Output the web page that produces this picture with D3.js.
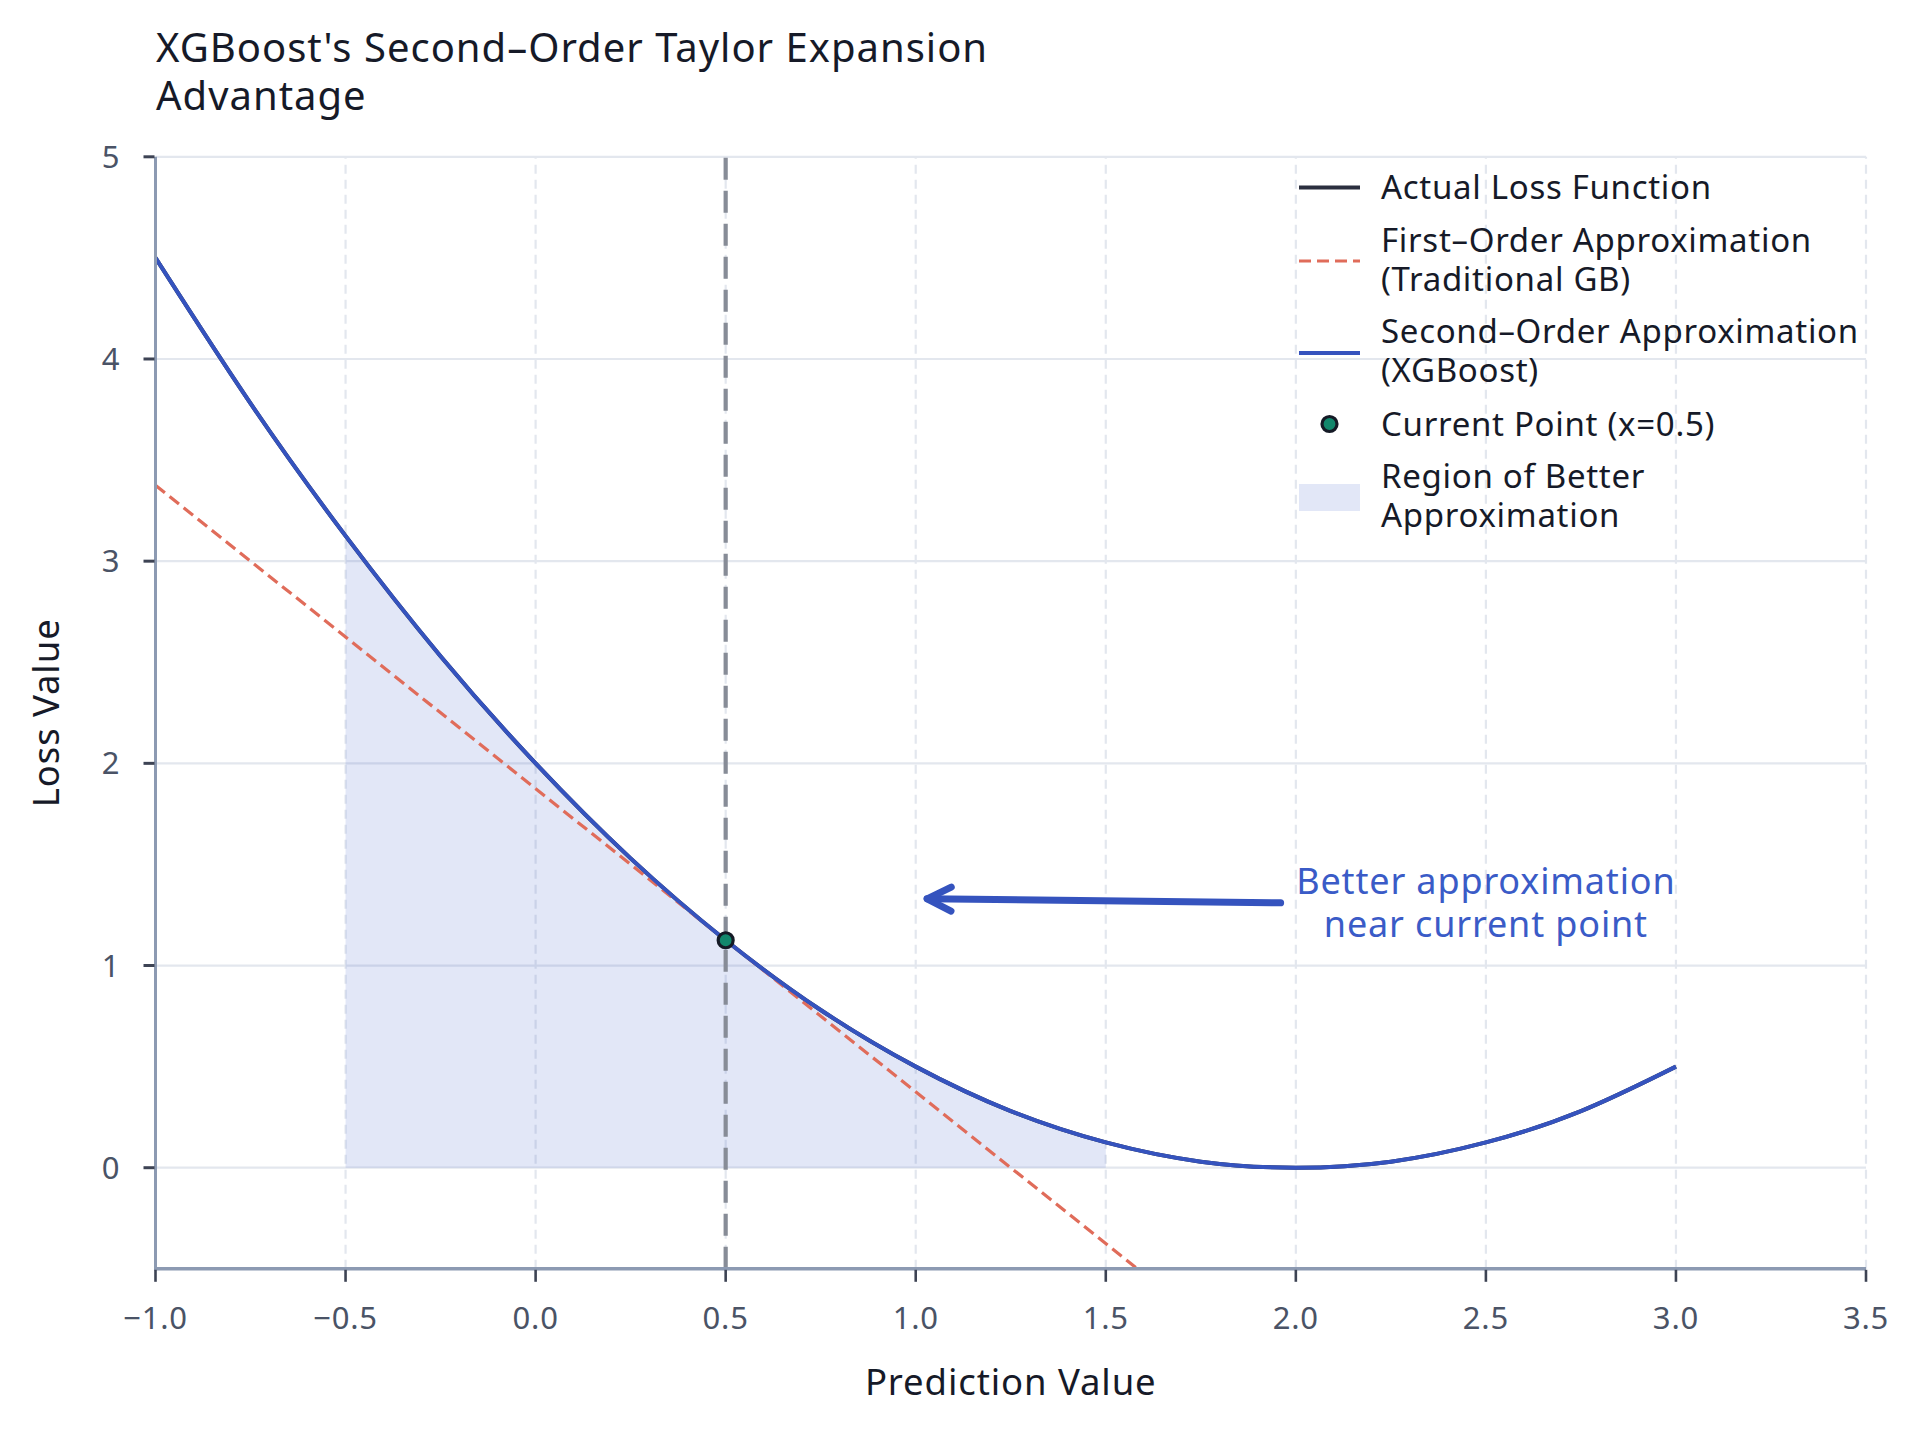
<!DOCTYPE html>
<html>
<head>
<meta charset="utf-8">
<script src="https://cdn.jsdelivr.net/npm/d3@7"></script>
<style>
  html, body { margin: 0; padding: 0; background: #ffffff; }
  svg { display: block; }
  text { font-family: "Noto Sans", "Open Sans", sans-serif; }
</style>
</head>
<body>
<svg id="chart" width="1920" height="1432"></svg>
<script>
// ---------- data ----------
const titleLines = ["XGBoost's Second\u2013Order Taylor Expansion", "Advantage"];
const xLabel = "Prediction Value";
const yLabel = "Loss Value";
const xTicks = [-1.0, -0.5, 0.0, 0.5, 1.0, 1.5, 2.0, 2.5, 3.0, 3.5];
const yTicks = [0, 1, 2, 3, 4, 5];

const predX = [-1.0, -0.75, -0.5, -0.25, 0.0, 0.25, 0.5, 0.75, 1.0, 1.25, 1.5, 1.75, 2.0, 2.25, 2.5, 2.75, 3.0];
const actualLoss = [4.5, 3.78, 3.125, 2.53, 2.0, 1.53, 1.125, 0.78, 0.5, 0.28, 0.125, 0.03, 0.0, 0.03, 0.125, 0.28, 0.5];
const secondOrder = [4.5, 3.78, 3.125, 2.53, 2.0, 1.53, 1.125, 0.78, 0.5, 0.28, 0.125, 0.03, 0.0, 0.03, 0.125, 0.28, 0.5];
const firstOrderX = [-1.0, 3.0];
const firstOrderY = [3.375, -2.625];
const regionRange = [-0.5, 1.5];
const currentPoint = [0.5, 1.125];
const annotationText = ["Better approximation", "near current point"];
const annotationPos = [2.5, 1.31];
const arrowFrom = [1.96, 1.31];
const arrowTo = [1.03, 1.33];
const legendLabels = [
  ["Actual Loss Function"],
  ["First\u2013Order Approximation", "(Traditional GB)"],
  ["Second\u2013Order Approximation", "(XGBoost)"],
  ["Current Point (x=0.5)"],
  ["Region of Better", "Approximation"]
];

// ---------- colours ----------
const C = {
  actual: "#2b2f3f",
  first: "#e06c5a",
  second: "#3553be",
  point: "#12876c",
  pointEdge: "#151a26",
  region: "#3a5bc7",
  grid: "#e3e7ee",
  spine: "#8c9ab2",
  tick: "#3d4354",
  tickLabel: "#4a5366",
  vline: "#878c97",
  annot: "#3a5bc7",
  text: "#161a28"
};

// ---------- layout ----------
const svg = d3.select("#chart");
const pLeft = 155.5, pRight = 1866, pTop = 156.8, pBottom = 1268.8;
const x = d3.scaleLinear().domain([-1.0, 3.5]).range([pLeft, pRight]);
const y = d3.scaleLinear().domain([-0.5, 5]).range([pBottom, pTop]);

svg.append("defs").append("clipPath").attr("id", "plotclip")
  .append("rect").attr("x", pLeft).attr("y", pTop).attr("width", pRight - pLeft).attr("height", pBottom - pTop);

// multi-line text helper (one <text>, several <tspan>)
function multiText(g, lines, xPos, yFirst, lineH) {
  const t = g.append("text");
  lines.forEach((s, j) => {
    t.append("tspan").attr("x", xPos).attr("y", yFirst + j * lineH).text(s);
  });
  return t;
}

// ---------- grid ----------
const grid = svg.append("g");
grid.selectAll("line.h").data(yTicks).join("line")
  .attr("x1", pLeft).attr("x2", pRight)
  .attr("y1", d => y(d)).attr("y2", d => y(d))
  .attr("stroke", C.grid).attr("stroke-width", 2.2);
grid.selectAll("line.v").data(xTicks.filter(d => d > -1)).join("line")
  .attr("x1", d => x(d)).attr("x2", d => x(d))
  .attr("y1", pBottom).attr("y2", pTop)
  .attr("stroke", C.grid).attr("stroke-width", 2.2)
  .attr("stroke-dasharray", "9,6");

const plot = svg.append("g").attr("clip-path", "url(#plotclip)");

// ---------- region ----------
const regionPts = predX.map((v, i) => [v, actualLoss[i]]).filter(d => d[0] >= regionRange[0] && d[0] <= regionRange[1]);
plot.append("path")
  .datum(regionPts)
  .attr("d", d3.area().x(d => x(d[0])).y0(y(0)).y1(d => y(d[1])).curve(d3.curveNatural))
  .attr("fill", C.region).attr("fill-opacity", 0.15);

// ---------- vertical current-point line ----------
plot.append("line")
  .attr("x1", x(currentPoint[0])).attr("x2", x(currentPoint[0]))
  .attr("y1", pBottom).attr("y2", pTop)
  .attr("stroke", C.vline).attr("stroke-width", 4.2)
  .attr("stroke-dasharray", "22,11");

// ---------- lines ----------
const lineGen = d3.line().x(d => x(d[0])).y(d => y(d[1])).curve(d3.curveNatural);
plot.append("path").datum(predX.map((v, i) => [v, actualLoss[i]]))
  .attr("d", lineGen).attr("fill", "none")
  .attr("stroke", C.actual).attr("stroke-width", 4);
plot.append("path").datum(firstOrderX.map((v, i) => [v, firstOrderY[i]]))
  .attr("d", d3.line().x(d => x(d[0])).y(d => y(d[1])))
  .attr("fill", "none").attr("stroke", C.first).attr("stroke-width", 3.2)
  .attr("stroke-dasharray", "12,6");
plot.append("path").datum(predX.map((v, i) => [v, secondOrder[i]]))
  .attr("d", lineGen).attr("fill", "none")
  .attr("stroke", C.second).attr("stroke-width", 4);

// ---------- current point ----------
plot.append("circle")
  .attr("cx", x(currentPoint[0])).attr("cy", y(currentPoint[1])).attr("r", 7.5)
  .attr("fill", C.point).attr("stroke", C.pointEdge).attr("stroke-width", 3.2);

// ---------- spines & ticks ----------
svg.append("line").attr("x1", pLeft).attr("x2", pLeft).attr("y1", pTop).attr("y2", pBottom + 1.5)
  .attr("stroke", C.spine).attr("stroke-width", 3);
svg.append("line").attr("x1", pLeft - 1.5).attr("x2", pRight).attr("y1", pBottom).attr("y2", pBottom)
  .attr("stroke", C.spine).attr("stroke-width", 3.4);

svg.selectAll("line.yt").data(yTicks).join("line")
  .attr("x1", pLeft - 12).attr("x2", pLeft - 1)
  .attr("y1", d => y(d)).attr("y2", d => y(d))
  .attr("stroke", C.tick).attr("stroke-width", 3);
svg.selectAll("text.yl").data(yTicks).join("text")
  .attr("x", pLeft - 36).attr("y", d => y(d) + 11)
  .attr("text-anchor", "end").attr("font-size", 31).attr("fill", C.tickLabel)
  .text(d => d3.format("d")(d));

svg.selectAll("line.xt").data(xTicks).join("line")
  .attr("x1", d => x(d)).attr("x2", d => x(d))
  .attr("y1", pBottom + 1).attr("y2", pBottom + 13)
  .attr("stroke", C.tick).attr("stroke-width", 2.6);
svg.selectAll("text.xl").data(xTicks).join("text")
  .attr("x", d => x(d)).attr("y", 1329)
  .attr("text-anchor", "middle").attr("font-size", 31).attr("letter-spacing", 0.8).attr("fill", C.tickLabel)
  .text(d => d3.format(".1f")(d).replace("-", "\u2212"));

// ---------- axis labels ----------
svg.append("text").attr("x", (pLeft + pRight) / 2).attr("y", 1395)
  .attr("text-anchor", "middle").attr("font-size", 36.5).attr("letter-spacing", 0.9).attr("fill", C.text)
  .text(xLabel);
svg.append("text").attr("transform", `translate(59,${(pTop + pBottom) / 2}) rotate(-90)`)
  .attr("text-anchor", "middle").attr("font-size", 36.5).attr("letter-spacing", 0.9).attr("fill", C.text)
  .text(yLabel);

// ---------- title ----------
multiText(svg.append("g"), titleLines, 156, 62, 48)
  .attr("font-size", 40).attr("letter-spacing", 1.0).attr("fill", C.text);

// ---------- annotation ----------
const ax1 = x(arrowFrom[0]), ay1 = y(arrowFrom[1]);
const ax2 = x(arrowTo[0]), ay2 = y(arrowTo[1]);
const ang = Math.atan2(ay2 - ay1, ax2 - ax1);
const hl = 24, hw = 12;
const ann = svg.append("g");
ann.append("line").attr("x1", ax1).attr("y1", ay1).attr("x2", ax2).attr("y2", ay2)
  .attr("stroke", C.second).attr("stroke-width", 7).attr("stroke-linecap", "round");
const bx = ax2 - hl * Math.cos(ang), by = ay2 - hl * Math.sin(ang);
ann.append("path")
  .attr("d", `M${bx - hw * Math.sin(ang)},${by + hw * Math.cos(ang)} L${ax2},${ay2} L${bx + hw * Math.sin(ang)},${by - hw * Math.cos(ang)}`)
  .attr("fill", "none").attr("stroke", C.second).attr("stroke-width", 7)
  .attr("stroke-linecap", "round").attr("stroke-linejoin", "round");
multiText(ann, annotationText, x(annotationPos[0]), y(annotationPos[1]) - 21.5 + 13, 43)
  .attr("text-anchor", "middle").attr("font-size", 36).attr("letter-spacing", 0.85).attr("fill", C.annot);

// ---------- legend ----------
const lg = svg.append("g");
const hx1 = 1299, hx2 = 1360, tx = 1381, lh = 39, fs = 33;
const entryCenters = [187.5, 259.5, 351, 424, 495.5];
legendLabels.forEach((lines, i) => {
  const c = entryCenters[i];
  const n = lines.length;
  multiText(lg, lines, tx, c - (n - 1) / 2 * lh + 11.8, lh)
    .attr("font-size", fs).attr("letter-spacing", 0.7).attr("fill", C.text);
});
lg.append("line").attr("x1", hx1).attr("x2", hx2).attr("y1", 187.5).attr("y2", 187.5)
  .attr("stroke", C.actual).attr("stroke-width", 4);
lg.append("line").attr("x1", hx1).attr("x2", hx2).attr("y1", 261).attr("y2", 261)
  .attr("stroke", C.first).attr("stroke-width", 3.2).attr("stroke-dasharray", "12,6");
lg.append("line").attr("x1", hx1).attr("x2", hx2).attr("y1", 353).attr("y2", 353)
  .attr("stroke", C.second).attr("stroke-width", 4);
lg.append("circle").attr("cx", 1329.5).attr("cy", 424).attr("r", 7.5)
  .attr("fill", C.point).attr("stroke", C.pointEdge).attr("stroke-width", 3.2);
lg.append("rect").attr("x", hx1).attr("y", 484).attr("width", hx2 - hx1).attr("height", 27)
  .attr("fill", C.region).attr("fill-opacity", 0.15);
</script>
</body>
</html>
